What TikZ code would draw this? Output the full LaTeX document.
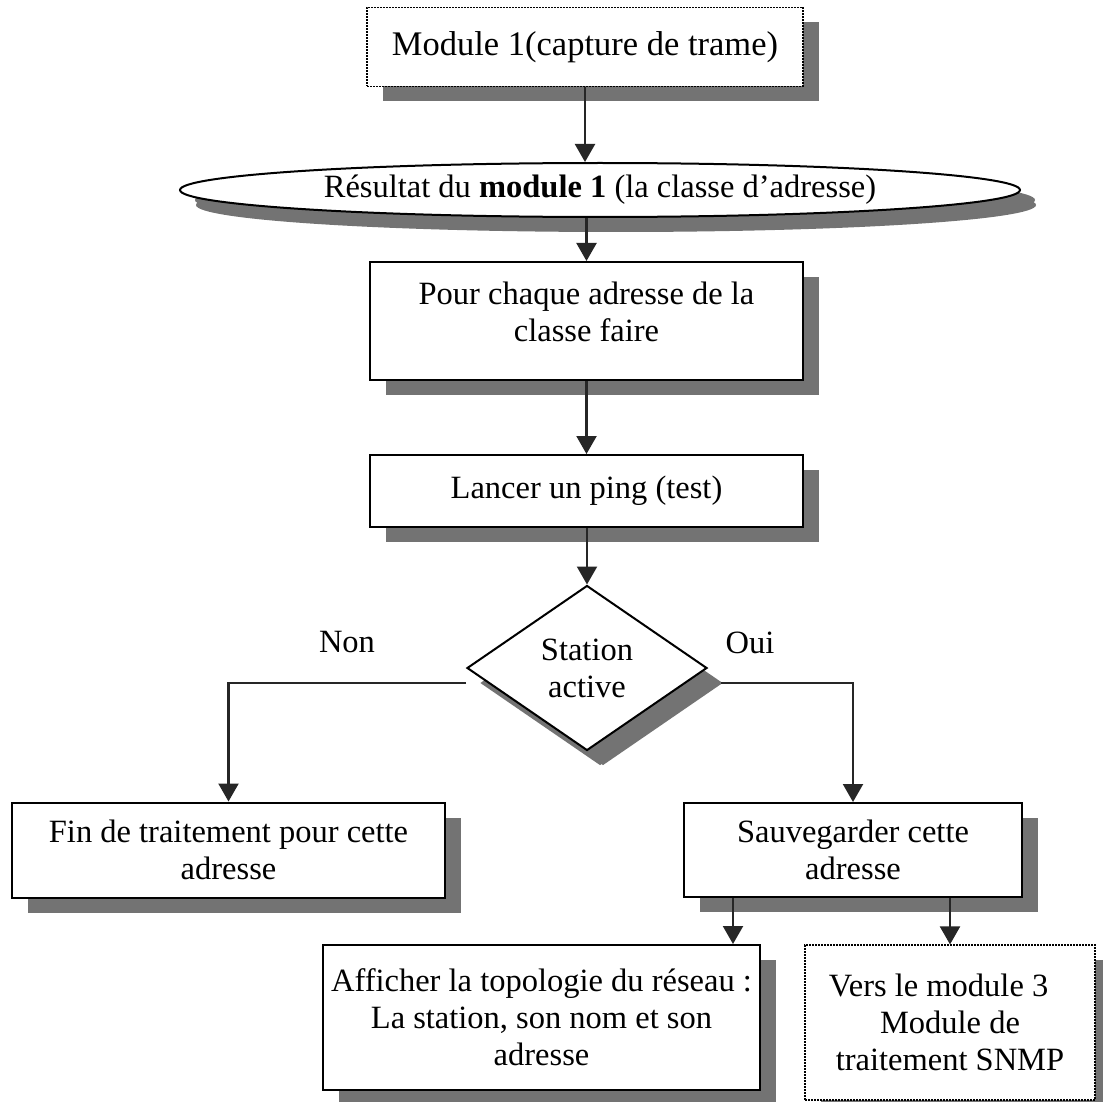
\documentclass[tikz,border=0pt]{standalone}
\usepackage{fontspec}
\setmainfont{Liberation Serif}
\usetikzlibrary{shapes.geometric,shadows,arrows.meta}

\begin{document}
\begin{tikzpicture}[x=1pt,y=-1pt,
  every node/.style={font=\fontsize{32.5}{37}\selectfont},
  shade/.style={drop shadow={shadow xshift=16pt,shadow yshift=-15pt,fill=black!55,opacity=1}},
  box/.style={draw,line width=2pt,fill=white,align=center,inner sep=0pt,shade},
  dotbox/.style={box,densely dotted,line width=1.2pt},
  arr/.style={line width=2.2pt,draw=black!85,-{Triangle[width=20pt,length=18pt]}}]

\useasboundingbox (0,0) rectangle (1103,1102);
\fill[white] (0,0) rectangle (1103,1102);

% process steps
\node[dotbox, minimum width=436pt, minimum height=79pt,
      font=\fontsize{34.5}{40}\selectfont] (m1) at (585,47) {Module 1(capture de trame)};
\node[box, ellipse, minimum width=840pt, minimum height=54pt,
      drop shadow={shadow xshift=15pt,shadow yshift=-10pt,fill=black!55,opacity=1}]
      (res) at (600,190) {Résultat du \textbf{module 1} (la classe d’adresse)};
\node[box, minimum width=433pt, minimum height=118pt] (pour) at (586.5,321)
      {Pour chaque adresse de la\\classe faire\\[-19pt]\mbox{}};
\node[box, minimum width=433pt, minimum height=72pt] (ping) at (586.5,491)
      {Lancer un ping (test)};
\node[box, diamond, minimum width=240pt, minimum height=165pt,
      drop shadow={shadow xshift=13pt,shadow yshift=-15pt,fill=black!55,opacity=1}]
      (dia) at (587,668) {Station\\active};

% outcomes
\node[box, minimum width=433pt, minimum height=95pt] (fin) at (228.5,850)
      {Fin de traitement pour cette\\adresse};
\node[box, minimum width=338pt, minimum height=94pt] (sauv) at (853,850)
      {Sauvegarder cette\\adresse};
\node[box, minimum width=437pt, minimum height=145pt] (aff) at (541.5,1017.5)
      {Afficher la topologie du réseau :\\La station, son nom et son\\adresse};
\node[dotbox, minimum width=290pt, minimum height=155pt] (snmp) at (950,1022.5)
      {Vers le module 3\hspace*{0.7em}\\Module de\\traitement SNMP};

% branch labels
\node (non) at (347,642) {Non};
\node (oui) at (750,643) {Oui};

% connectors
\draw[arr] (m1.south) -- (m1.south |- res.north);
\draw[arr] (res.south -| pour.north) -- (pour.north);
\draw[arr] (pour.south) -- (ping.north);
\draw[arr] (ping.south -| dia.north) -- (dia.north);
\draw[arr] ([yshift=-15pt]dia.west) -| (fin.north);
\draw[arr] ([xshift=13pt,yshift=-15pt]dia.east) -| (sauv.north);
\draw[arr] ([xshift=-120pt]sauv.south) -- ([xshift=-120pt]sauv.south |- aff.north);
\draw[arr] (sauv.south -| snmp.north) -- (snmp.north);
\end{tikzpicture}
\end{document}
